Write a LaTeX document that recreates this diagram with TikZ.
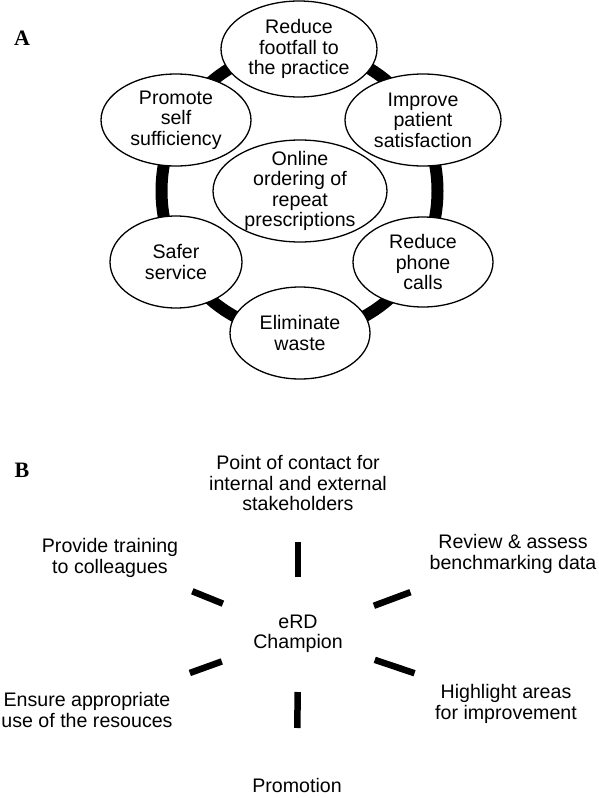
\documentclass[tikz,border=0pt]{standalone}
\usepackage{fontspec}
\setmainfont{Liberation Sans}
\newfontfamily\panelfont{Liberation Serif}
\usetikzlibrary{shapes.geometric,calc,backgrounds}
\begin{document}
\begin{tikzpicture}[x=1pt,y=-1pt,
  txt/.style={font=\fontsize{19.6}{20.5}\selectfont, align=center, inner sep=0pt},
  goal/.style={txt, ellipse, draw, line width=1.3pt, fill=white},
  panel/.style={font=\panelfont\bfseries\fontsize{22}{24}\selectfont, inner sep=0pt},
  ring/.style={line width=12pt},
  spoke/.style={line width=6.5pt}
]
\useasboundingbox (0,0) rectangle (598,798);

% ---------- Panel A ----------
\node[panel] (labA) at (22,38) {A};

\node[goal, minimum width=156pt, minimum height=96pt] (top) at (299,49) {Reduce\\footfall to\\the practice};
\node[goal, minimum width=150pt, minimum height=92pt] (promote) at (176,120) {Promote\\self\\sufficiency};
\node[goal, minimum width=156pt, minimum height=92pt] (improve) at (423,120) {Improve\\patient\\satisfaction};
\node[goal, minimum width=174pt, minimum height=102pt, inner ysep=-7pt] (online) at (300,191) {Online\\ordering of\\repeat\\prescriptions};
\node[goal, minimum width=132pt, minimum height=92pt] (safer) at (176,262) {Safer\\service};
\node[goal, minimum width=140pt, minimum height=90pt] (phone) at (423,262) {Reduce\\phone\\calls};
\node[goal, minimum width=140pt, minimum height=92pt] (elim) at (300,333) {Eliminate\\waste};

\coordinate (ringc) at ($(top.center)!0.5!(elim.center)$);
\begin{scope}[on background layer]
  \draw[ring] (ringc) ellipse [x radius=138pt, y radius=142pt];
\end{scope}

% ---------- Panel B ----------
\node[panel] (labB) at (22,470) {B};

\node[txt] (champ) at (298,634) {eRD\\Champion};
\node[txt] (poc) at (298,483) {Point of contact for\\internal and external\\stakeholders};
\node[txt] (provide) at (110,558) {Provide training\\to colleagues};
\node[txt] (review) at (513,554) {Review \& assess\\benchmarking data};
\node[txt] (ensure) at (87,710) {Ensure appropriate\\use of the resouces};
\node[txt] (highlight) at (506,704) {Highlight areas\\for improvement};
\node[txt] (promo) at (297,785) {Promotion};

\draw[spoke] ($(champ.center)!57pt!(poc.center)$) -- ($(champ.center)!92pt!(poc.center)$);
\draw[spoke] ($(champ.center)!81pt!(provide.center)$) -- ($(champ.center)!114pt!(provide.center)$);
\draw[spoke] ($(champ.center)!81pt!(review.center)$) -- ($(champ.center)!120pt!(review.center)$);
\draw[spoke] ($(champ.center)!81pt!(ensure.center)$) -- ($(champ.center)!115pt!(ensure.center)$);
\draw[spoke] ($(champ.center)!81pt!(highlight.center)$) -- ($(champ.center)!123pt!(highlight.center)$);
\draw[spoke] ($(champ.center)!58pt!(promo.center)$) -- ($(champ.center)!94pt!(promo.center)$);
\end{tikzpicture}
\end{document}
